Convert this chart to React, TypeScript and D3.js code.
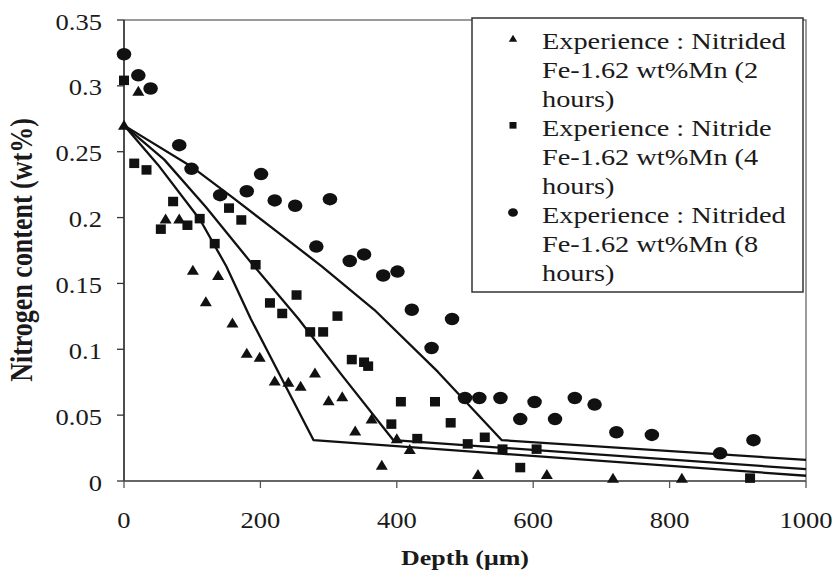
import { useEffect, useRef } from 'react';
import * as d3 from 'd3';

const tri2hDepth = [0, 21, 61, 81, 101, 120, 138, 159, 180, 199, 221, 241, 259, 280, 300, 320, 339, 363, 378, 400, 419, 519, 620, 717, 818];
const tri2hN = [0.27, 0.296, 0.199, 0.199, 0.16, 0.136, 0.156, 0.12, 0.097, 0.094, 0.076, 0.075, 0.072, 0.082, 0.061, 0.064, 0.038, 0.047, 0.012, 0.032, 0.024, 0.005, 0.005, 0.002, 0.002];

const sq4hDepth = [0, 15, 33, 54, 72, 93, 111, 133, 154, 172, 193, 214, 232, 253, 273, 292, 313, 334, 352, 358, 392, 406, 430, 456, 479, 504, 529, 555, 581, 605, 918];
const sq4hN = [0.304, 0.241, 0.236, 0.191, 0.212, 0.194, 0.199, 0.18, 0.207, 0.198, 0.164, 0.135, 0.127, 0.141, 0.113, 0.113, 0.125, 0.092, 0.09, 0.087, 0.043, 0.06, 0.032, 0.06, 0.044, 0.028, 0.033, 0.024, 0.01, 0.024, 0.002];

const circ8hDepth = [0, 21, 39, 81, 99, 141, 180, 201, 221, 251, 282, 302, 331, 352, 380, 401, 422, 451, 481, 500, 521, 552, 581, 602, 632, 661, 690, 722, 774, 874, 923];
const circ8hN = [0.324, 0.308, 0.298, 0.255, 0.237, 0.217, 0.22, 0.233, 0.213, 0.209, 0.178, 0.214, 0.167, 0.172, 0.156, 0.159, 0.13, 0.101, 0.123, 0.063, 0.063, 0.063, 0.047, 0.06, 0.047, 0.063, 0.058, 0.037, 0.035, 0.021, 0.031];

// model curves
const model2hDepth = [0, 50, 112, 150, 186, 278, 1000];
const model2hN = [0.27, 0.24, 0.198, 0.163, 0.123, 0.031, 0.004];
const model4hDepth = [0, 59, 120, 186, 256, 320, 395, 1000];
const model4hN = [0.27, 0.244, 0.208, 0.166, 0.123, 0.08, 0.031, 0.009];
const model8hDepth = [0, 98, 160, 220, 290, 367, 460, 554, 1000];
const model8hN = [0.27, 0.239, 0.215, 0.191, 0.163, 0.13, 0.083, 0.031, 0.016];

const xTicks = [0, 200, 400, 600, 800, 1000];
const yTicks = [0, 0.05, 0.1, 0.15, 0.2, 0.25, 0.3, 0.35];
const yTickLabels = ['0', '0.05', '0.1', '0.15', '0.2', '0.25', '0.3', '0.35'];

const legendEntries = [
  ['Experience : Nitrided', 'Fe-1.62 wt%Mn (2', 'hours)'],
  ['Experience : Nitride', 'Fe-1.62 wt%Mn (4', 'hours)'],
  ['Experience : Nitrided', 'Fe-1.62 wt%Mn (8', 'hours)'],
];
const legendSymbols = ['triangle', 'square', 'circle'];

const FONT = "'Liberation Serif', 'Times New Roman', 'DejaVu Serif', serif";
const SX = 1.18; // the figure is a bit stretched sideways

const zip = (xs: number[], ys: number[]) => xs.map((d, i) => ({ d, n: ys[i] }));

const App = () => {
  const svgRef = useRef<SVGSVGElement>(null);

  useEffect(() => {
    const svg = d3.select(svgRef.current);
    svg.selectAll('*').remove();

    const left = 124, right = 806, top = 20, bottom = 481;
    const x = d3.scaleLinear().domain([0, 1000]).range([left, right]);
    const y = d3.scaleLinear().domain([0, 0.35]).range([bottom, top]);

    const ink = '#1a1a1a';

    // plot frame
    svg.append('rect')
      .attr('x', left).attr('y', top)
      .attr('width', right - left).attr('height', bottom - top)
      .attr('fill', 'none').attr('stroke', '#666').attr('stroke-width', 1.3);

    // axes
    svg.append('line').attr('x1', left).attr('x2', left).attr('y1', top).attr('y2', bottom)
      .attr('stroke', '#333').attr('stroke-width', 1.5);
    svg.append('line').attr('x1', left).attr('x2', right).attr('y1', bottom).attr('y2', bottom)
      .attr('stroke', '#555').attr('stroke-width', 1.5);

    const stretchText = (g: any, px: number, py: number, txt: string, size: number, anchor: string, weight = 'normal') =>
      g.append('text')
        .attr('transform', `translate(${px},${py}) scale(${SX},1)`)
        .attr('text-anchor', anchor)
        .style('font-family', FONT)
        .style('font-size', `${size}px`)
        .style('font-weight', weight)
        .attr('fill', ink)
        .text(txt);

    // y ticks
    yTicks.forEach((t, i) => {
      svg.append('line').attr('x1', left - 7).attr('x2', left).attr('y1', y(t)).attr('y2', y(t))
        .attr('stroke', '#333').attr('stroke-width', 1.3);
      stretchText(svg, 102, y(t) + 9.5, yTickLabels[i], 22.5, 'end');
    });

    // x ticks
    xTicks.forEach(t => {
      svg.append('line').attr('x1', x(t)).attr('x2', x(t)).attr('y1', bottom).attr('y2', bottom + 7)
        .attr('stroke', '#555').attr('stroke-width', 1.3);
      stretchText(svg, x(t), 528, String(t), 22.5, 'middle');
    });

    // axis titles
    stretchText(svg, (left + right) / 2, 565, 'Depth (\u03bcm)', 22, 'middle', 'bold');
    svg.append('text')
      .attr('transform', `translate(32,250) scale(${SX},1) rotate(-90)`)
      .attr('text-anchor', 'middle')
      .style('font-family', FONT)
      .style('font-size', '26px')
      .style('font-weight', 'bold')
      .attr('fill', ink)
      .text('Nitrogen content (wt%)');

    // model lines
    const line = d3.line<{ d: number; n: number }>().x(p => x(p.d)).y(p => y(p.n));
    [zip(model2hDepth, model2hN), zip(model4hDepth, model4hN), zip(model8hDepth, model8hN)].forEach(pts => {
      svg.append('path')
        .datum(pts)
        .attr('d', line)
        .attr('fill', 'none')
        .attr('stroke', '#111')
        .attr('stroke-width', 2.3)
        .attr('stroke-linejoin', 'round');
    });

    // markers
    const drawMarker = (g: any, kind: string, cx: number, cy: number, s: number) => {
      if (kind === 'triangle') {
        g.append('path')
          .attr('d', `M${cx},${cy - s * 0.55}L${cx + s * 0.6},${cy + s * 0.45}L${cx - s * 0.6},${cy + s * 0.45}Z`)
          .attr('fill', '#111');
      } else if (kind === 'square') {
        g.append('rect').attr('x', cx - s / 2).attr('y', cy - s / 2).attr('width', s).attr('height', s * 0.95)
          .attr('fill', '#111');
      } else {
        g.append('ellipse').attr('cx', cx).attr('cy', cy).attr('rx', s * 0.58).attr('ry', s * 0.5)
          .attr('fill', '#111');
      }
    };

    const pts = svg.append('g');
    zip(tri2hDepth, tri2hN).forEach(p => drawMarker(pts, 'triangle', x(p.d), y(p.n), 10));
    zip(sq4hDepth, sq4hN).forEach(p => drawMarker(pts, 'square', x(p.d), y(p.n), 10));
    zip(circ8hDepth, circ8hN).forEach(p => drawMarker(pts, 'circle', x(p.d), y(p.n), 12.5));

    // legend
    const lg = svg.append('g');
    lg.append('rect')
      .attr('x', 472).attr('y', 18)
      .attr('width', 331).attr('height', 274)
      .attr('fill', '#fff').attr('stroke', '#333').attr('stroke-width', 1.5);
    const lineGap = 29;
    legendEntries.forEach((entry, i) => {
      entry.forEach((txt, j) => {
        const base = 48.5 + (i * 3 + j) * lineGap;
        stretchText(lg, 542, base, txt, 24, 'start');
      });
      const base0 = 48.5 + i * 3 * lineGap;
      drawMarker(lg, legendSymbols[i], 513, base0 - 10, legendSymbols[i] === 'circle' ? 8.5 : 7);
    });
  }, []);

  return (
    <svg
      ref={svgRef}
      width={835}
      height={578}
      style={{ position: 'absolute', left: 0, top: 0, background: '#fff', display: 'block' }}
    />
  );
};

export default App;
